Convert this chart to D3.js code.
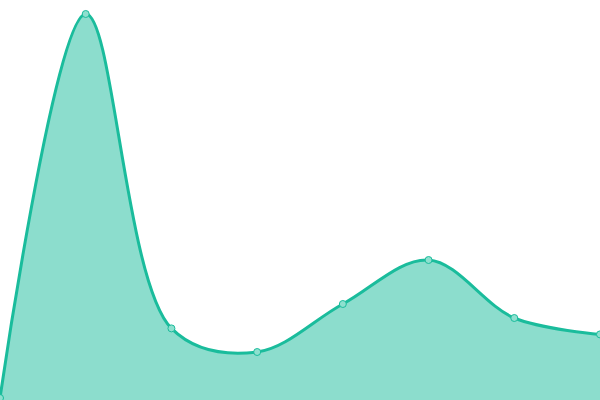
<!DOCTYPE html>
<html>
<head>
<meta charset="utf-8">
<script src="https://cdn.jsdelivr.net/npm/d3@7"></script>
<style>
  body { margin: 0; background: #fff; }
  svg { display: block; }
</style>
</head>
<body>
<div id="chart"></div>
<script>
const WIDTH = 600;
const HEIGHT = 400;
const LINE_COLOR = '#1abc9c';

// One value per evenly spaced point
const categories = [0, 1, 2, 3, 4, 5, 6, 7];
const values = [0.5, 96.5, 17.9, 12, 24, 35, 20.5, 16.4];

document.addEventListener('DOMContentLoaded', function() {
  const dataset = categories.map((c, i) => ({x: c, y: values[i]}));
  drawArea(dataset);
});

function drawArea(dataset) {
  const xScale = d3.scaleLinear()
                   .domain([0, categories.length - 1])
                   .range([0, WIDTH]);
  const yScale = d3.scaleLinear()
                   .domain([0, 100])
                   .range([HEIGHT, 0]);

  const svg = d3.select('#chart')
                .append('svg')
                .attr('width', WIDTH)
                .attr('height', HEIGHT);

  // Filled area under the curve
  const area = d3.area()
                 .x(d => xScale(d.x))
                 .y0(yScale(0))
                 .y1(d => yScale(d.y))
                 .curve(d3.curveCatmullRom.alpha(0.5));
  svg.append('path')
     .datum(dataset)
     .attr('d', area)
     .attr('fill', LINE_COLOR)
     .attr('fill-opacity', 0.5);

  // Outline on top
  const line = d3.line()
                 .x(d => xScale(d.x))
                 .y(d => yScale(d.y))
                 .curve(d3.curveCatmullRom.alpha(0.5));
  svg.append('path')
     .datum(dataset)
     .attr('d', line)
     .attr('fill', 'none')
     .attr('stroke', LINE_COLOR)
     .attr('stroke-width', 3);

  // Small markers on each data point
  svg.selectAll('circle')
     .data(dataset)
     .enter()
     .append('circle')
     .attr('cx', d => xScale(d.x))
     .attr('cy', d => yScale(d.y))
     .attr('r', 3.5)
     .attr('fill', '#8ee0cf')
     .attr('stroke', LINE_COLOR)
     .attr('stroke-width', 1);
}
</script>
</body>
</html>
